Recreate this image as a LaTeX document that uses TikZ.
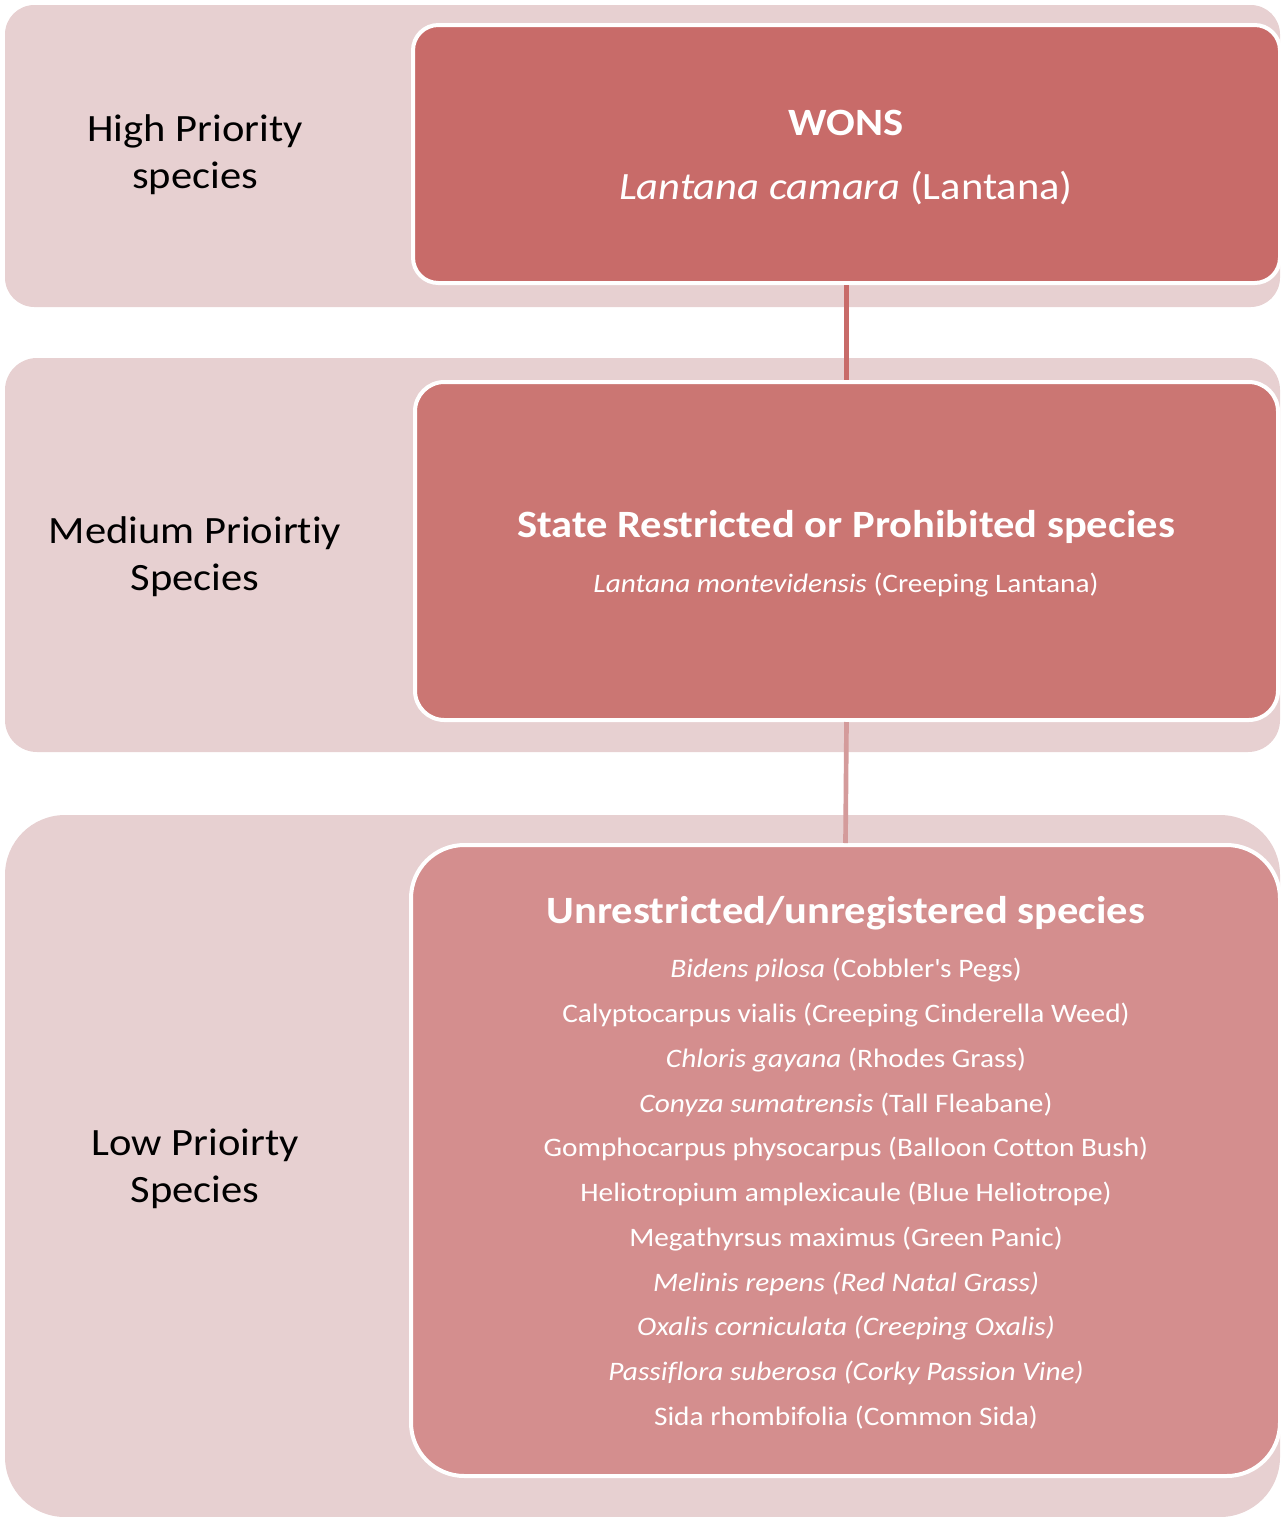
\documentclass[tikz,border=0pt]{standalone}
\usepackage{fontspec}
\setmainfont{Carlito}[FakeStretch=1.1, Ligatures=NoCommon]
\definecolor{bandc}{HTML}{E7D0D1}
\definecolor{boxa}{HTML}{C86B69}
\definecolor{boxb}{HTML}{CB7673}
\definecolor{boxc}{HTML}{D48E8E}
\definecolor{conna}{HTML}{C86B69}
\definecolor{connb}{HTML}{D49B9B}
\begin{document}
\begin{tikzpicture}[x=0.75pt,y=-0.75pt,
  band/.style={fill=bandc, draw=none, minimum width=956.25pt, inner sep=0pt},
  box/.style={draw=white, line width=3pt, inner sep=0pt},
  lbl/.style={font=\fontsize{29}{35.25}\selectfont, align=center, text=black},
  ttl/.style={font=\fontsize{29}{35}\selectfont\bfseries, text=white},
  big/.style={font=\fontsize{29}{35}\selectfont, text=white},
  sml/.style={font=\fontsize{20}{24}\selectfont, text=white},
  conn/.style={line width=3.5pt}]
\useasboundingbox (0,0) rectangle (1283,1517);
% bands
\node[band, rounded corners=22pt, minimum height=226.5pt] (b1) at (642.5,156) {};
\node[band, rounded corners=24pt, minimum height=295.5pt] (b2) at (642.5,555) {};
\node[band, rounded corners=45pt, minimum height=526.5pt] (b3) at (642.5,1166) {};
% boxes
\node[box, fill=boxa, rounded corners=19pt, minimum width=650.25pt, minimum height=193.5pt] (x1) at (846.5,154) {};
\node[box, fill=boxb, rounded corners=22pt, minimum width=647.25pt, minimum height=253.5pt] (x2) at (846.5,551) {};
\node[box, fill=boxc, rounded corners=40pt, minimum width=651.75pt, minimum height=473.25pt] (x3) at (845.5,1160.5) {};
% connectors
\draw[conn, draw=conna] (x1.south) -- (x2.north);
\draw[conn, draw=connb] (x2.south) -- (x3.north);
% left labels
\node[lbl] (l1) at (195,155) {High Priority\\species};
\node[lbl] (l2) at (195,557) {Medium Prioirtiy\\Species};
\node[lbl] (l3) at (195,1169) {Low Prioirty\\Species};
% box 1 text
\node[ttl] (t1) at (846,123) {WONS};
\node[big] (s1) at (846,188) {\textit{Lantana camara} (Lantana)};
% box 2 text
\node[ttl] (t2) at (846,527) {State Restricted or Prohibited species};
\node[sml] (s2) at (846,585) {\textit{Lantana montevidensis} (Creeping Lantana)};
% box 3 text
\node[ttl] (t3) at (846,913) {Unrestricted/unregistered species};
\foreach \t [count=\i from 0] in {
  {\textit{Bidens pilosa} (Cobbler\textquotesingle s Pegs)},
  {Calyptocarpus vialis (Creeping Cinderella Weed)},
  {\textit{Chloris gayana} (Rhodes Grass)},
  {\textit{Conyza sumatrensis} (Tall Fleabane)},
  {Gomphocarpus physocarpus (Balloon Cotton Bush)},
  {Heliotropium amplexicaule (Blue Heliotrope)},
  {Megathyrsus maximus (Green Panic)},
  {\textit{Melinis repens (Red Natal Grass)}},
  {\textit{Oxalis corniculata (Creeping Oxalis)}},
  {\textit{Passiflora suberosa (Corky Passion Vine)}},
  {Sida rhombifolia (Common Sida)}}
  \node[sml] (sp\i) at (846,970+44.8*\i) {\t};
\end{tikzpicture}
\end{document}
